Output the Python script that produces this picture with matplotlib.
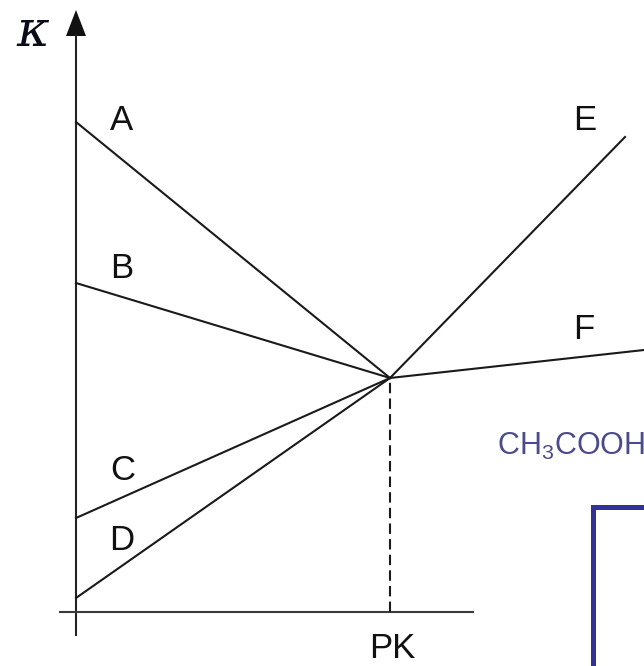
import matplotlib
matplotlib.use('Agg')
import matplotlib.pyplot as plt
from matplotlib.patches import Rectangle, Polygon

plt.rcParams['font.family'] = ['Liberation Sans', 'DejaVu Sans']
plt.rcParams['mathtext.fontset'] = 'custom'
plt.rcParams['mathtext.rm'] = 'Liberation Sans'

####################
# Data

pk = 31.4          # x of the common point
k_pk = 23.4        # conductivity at pk
labels_left = ['A', 'B', 'C', 'D']
k_start = [49.0, 32.9, 9.4, 1.4]
labels_right = ['E', 'F']
x_end = [54.9, 56.8]
k_end = [47.5, 26.2]

####################
# Figure

fig = plt.figure(figsize=(6.44, 6.66), dpi=100)
ax = fig.add_axes([0, 0, 1, 1])
ax.set_xlim(-7.6, 56.8)
ax.set_ylim(-5.4, 61.2)
ax.axis('off')

lw = 1.5
# axes with arrow on k
ax.plot([0, 0], [-2.4, 57.8], color='#222222', lw=lw, solid_capstyle='butt')
ax.add_patch(Polygon([[-1.0, 57.6], [1.0, 57.6], [0, 60.2]], closed=True,
                     color='#111111', lw=0))
ax.plot([-1.6, 39.7], [0, 0], color='#3a3a3a', lw=lw)

# lines into the common point
for lab, k0 in zip(labels_left, k_start):
    ax.plot([0, pk], [k0, k_pk], color='#1a1a1a', lw=lw)
for lab, x1, k1 in zip(labels_right, x_end, k_end):
    ax.plot([pk, x1], [k_pk, k1], color='#1a1a1a', lw=lw)

ax.plot([pk, pk], [0, k_pk], color='#1a1a1a', lw=lw, ls=(0, (5, 2.5)))

# labels
fs = 25
left_pos = [(4.6, 49.2), (4.6, 34.4), (4.7, 14.1), (4.6, 7.2)]
right_pos = [(50.9, 49.2), (50.8, 28.3)]
for lab, (x, y) in zip(labels_left + labels_right, left_pos + right_pos):
    ax.text(x, y, lab, fontsize=fs, ha='center', va='center', color='#111111')
ax.text(pk + 0.2, -3.7, 'PK', fontsize=fs, ha='center', va='center', color='#111111')
ax.text(-4.3, 58.0, 'κ', fontsize=36, ha='center', va='center',
        family=['DejaVu Serif'], style='italic', color='#0a0a1a')

ax.text(42.1, 15.7, r'$\mathrm{CH_3COOH}$', fontsize=22, ha='left',
        va='baseline', color='#4b4b8c')
ax.add_patch(Rectangle((51.7, -10), 20, 20.5, fill=False,
                       edgecolor='#33309a', lw=3.6))

fig.savefig('out.png', dpi=100)
